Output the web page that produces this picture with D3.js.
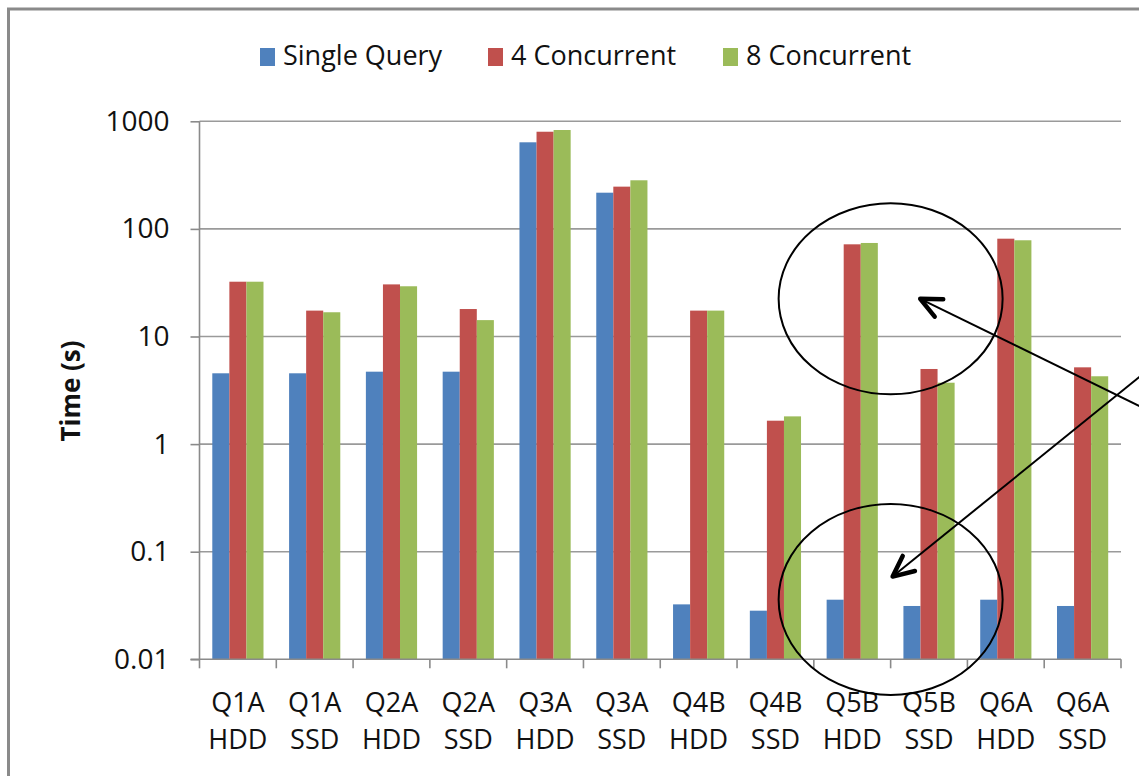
<!DOCTYPE html>
<html>
<head>
<meta charset="utf-8">
<script src="https://cdn.jsdelivr.net/npm/d3@7"></script>
<style>
  html, body { margin: 0; padding: 0; background: #fff; overflow: hidden; }
  svg { display: block; font-family: "Open Sans", sans-serif; }
</style>
</head>
<body>
<script>
// ---- data ----
const categories = ["Q1A HDD","Q1A SSD","Q2A HDD","Q2A SSD","Q3A HDD","Q3A SSD",
                    "Q4B HDD","Q4B SSD","Q5B HDD","Q5B SSD","Q6A HDD","Q6A SSD"];
const seriesNames = ["Single Query", "4 Concurrent", "8 Concurrent"];
const singleQuery  = [4.55, 4.55, 4.71, 4.71, 638, 217, 0.0324, 0.0283, 0.0358, 0.0313, 0.0358, 0.0313];
const concurrent4  = [32.3, 17.4, 30.5, 18.0, 800, 247, 17.4, 1.65, 71.9, 4.99, 81.1, 5.17];
const concurrent8  = [32.3, 16.8, 29.3, 14.2, 830, 283, 17.4, 1.81, 74.0, 3.72, 78.4, 4.27];
const yTickValues  = [0.01, 0.1, 1, 10, 100, 1000];
const yTickLabels  = ["0.01", "0.1", "1", "10", "100", "1000"];
const yTitle = "Time (s)";
const colors = ["#4F81BD", "#C0504D", "#9BBB59"];

(function () {
const W = 1139, H = 776;
const svg = d3.select("body").append("svg").attr("width", W).attr("height", H);

// outer frame
svg.append("rect").attr("x", 8.5).attr("y", 9).attr("width", 1200).attr("height", 900)
  .attr("fill", "none").attr("stroke", "#8a8a8a").attr("stroke-width", 3);

const pLeft = 199.5, pRight = 1121, pTop = 121.3, pBottom = 659.3;

const x = d3.scaleBand().domain(categories).range([pLeft, pRight]).paddingInner(0).paddingOuter(0);
const xs = d3.scaleBand().domain(seriesNames).range([0, x.bandwidth()]).paddingInner(0).paddingOuter(0.75);
const y = d3.scaleLog().domain([0.01, 1000]).range([pBottom, pTop]);

// gridlines
svg.append("g").selectAll("line").data(yTickValues.slice(1)).join("line")
  .attr("x1", pLeft).attr("x2", pRight)
  .attr("y1", d => y(d)).attr("y2", d => y(d))
  .attr("stroke", "#9a9a9a").attr("stroke-width", 1.6);

// bars
const series = [singleQuery, concurrent4, concurrent8];
series.forEach((vals, si) => {
  svg.append("g").selectAll("rect").data(vals).join("rect")
    .attr("x", (d, i) => x(categories[i]) + xs(seriesNames[si]))
    .attr("width", xs.bandwidth())
    .attr("y", d => y(d))
    .attr("height", d => y(0.01) - y(d))
    .attr("fill", colors[si]);
});

// y axis
const yAxis = d3.axisLeft(y).tickValues(yTickValues)
  .tickFormat((d, i) => yTickLabels[i]).tickSize(9).tickPadding(21);
const gy = svg.append("g").attr("transform", `translate(${pLeft},0)`).call(yAxis);
gy.select(".domain").attr("stroke", "#8a8a8a").attr("stroke-width", 1.6).attr("d", `M0,${pTop}V${pBottom}`);
gy.selectAll(".tick line").attr("stroke", "#8a8a8a").attr("stroke-width", 1.6);
gy.selectAll(".tick text").attr("font-size", 28).attr("fill", "#111").attr("font-family", "Open Sans");

// x axis (ticks between categories)
const gx = svg.append("g");
gx.append("line").attr("x1", pLeft - 9).attr("x2", pRight).attr("y1", pBottom).attr("y2", pBottom)
  .attr("stroke", "#8a8a8a").attr("stroke-width", 1.6);
const boundaries = categories.map(c => x(c)).concat([x(categories[categories.length - 1]) + x.bandwidth()]);
gx.selectAll("line.t").data(boundaries).join("line").attr("class", "t")
  .attr("x1", d => d).attr("x2", d => d).attr("y1", pBottom).attr("y2", pBottom + 9)
  .attr("stroke", "#8a8a8a").attr("stroke-width", 1.6);
const lbl = gx.selectAll("text").data(categories).join("text")
  .attr("text-anchor", "middle").attr("font-size", 27).attr("fill", "#111");
lbl.append("tspan").attr("x", d => x(d) + x.bandwidth() / 2).attr("y", 711.5).text(d => d.split(" ")[0]);
lbl.append("tspan").attr("x", d => x(d) + x.bandwidth() / 2).attr("y", 748.5).text(d => d.split(" ")[1]);

// y title
svg.append("text").attr("transform", "translate(80,391) rotate(-90)")
  .attr("text-anchor", "middle").attr("font-size", 26).attr("font-weight", "bold").attr("fill", "#111")
  .text(yTitle);

// legend
const legendX = [260, 488, 723];
const lg = svg.append("g");
seriesNames.forEach((n, i) => {
  lg.append("rect").attr("x", legendX[i]).attr("y", 48).attr("width", 15).attr("height", 18).attr("fill", colors[i]);
  lg.append("text").attr("x", legendX[i] + 23).attr("y", 65).attr("font-size", 27).attr("fill", "#111").text(n);
});

// annotations: ellipses around Q5B HDD / Q5B SSD boundary
const cx = x("Q5B SSD");
const ann = svg.append("g").attr("fill", "none").attr("stroke", "#000");
[22.4, 0.036].forEach(v => {
  ann.append("ellipse").attr("cx", cx).attr("cy", y(v)).attr("rx", 112).attr("ry", 95.5).attr("stroke-width", 2);
});

// arrows
function arrow(tx, ty, ex, ey) {
  ann.append("line").attr("x1", tx).attr("y1", ty).attr("x2", ex).attr("y2", ey).attr("stroke-width", 2);
  const ang = Math.atan2(ey - ty, ex - tx);
  const L = 23, a = 25 * Math.PI / 180;
  const p1 = [tx + L * Math.cos(ang - a), ty + L * Math.sin(ang - a)];
  const p2 = [tx + L * Math.cos(ang + a), ty + L * Math.sin(ang + a)];
  ann.append("path").attr("d", `M${p1[0]},${p1[1]}L${tx},${ty}L${p2[0]},${p2[1]}`)
    .attr("stroke-width", 4.5).attr("stroke-linecap", "round").attr("stroke-linejoin", "round");
}
const t1x = cx + 29.6, t1y = y(22.4);
arrow(t1x, t1y, t1x + 300, t1y + 300 * 0.489);
const t2x = cx + 2, t2y = y(0.0587);
arrow(t2x, t2y, t2x + 320, t2y - 320 * 0.809);
})();
</script>
</body>
</html>
